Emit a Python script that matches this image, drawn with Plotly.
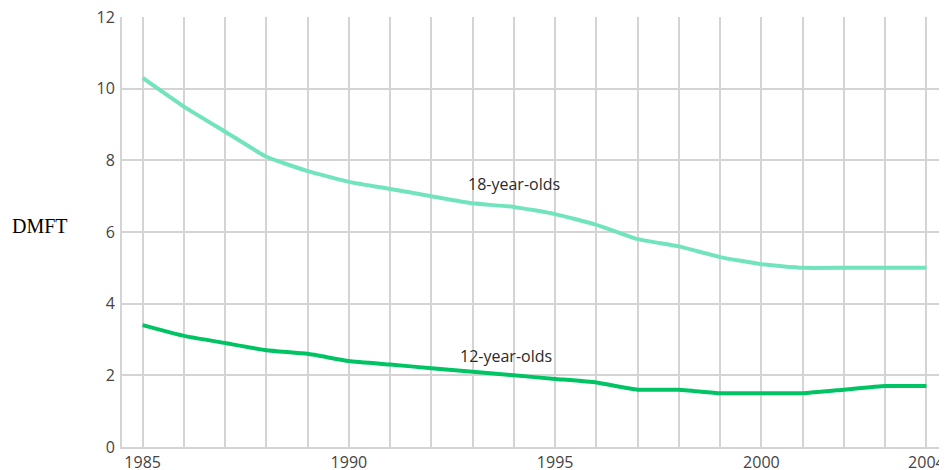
import plotly.graph_objects as go

years = list(range(1985, 2005))
dmft_18 = [10.3, 9.5, 8.8, 8.1, 7.7, 7.4, 7.2, 7.0, 6.8, 6.7, 6.5, 6.2, 5.8, 5.6, 5.3, 5.1, 5.0, 5.0, 5.0, 5.0]
dmft_12 = [3.4, 3.1, 2.9, 2.7, 2.6, 2.4, 2.3, 2.2, 2.1, 2.0, 1.9, 1.8, 1.6, 1.6, 1.5, 1.5, 1.5, 1.6, 1.7, 1.7]
labelled_years = [1985, 1990, 1995, 2000, 2004]
y_ticks = [0, 2, 4, 6, 8, 10, 12]

x_ticktext = [str(y) if y in labelled_years else "" for y in years]

fig = go.Figure()
fig.add_trace(go.Scatter(x=years, y=dmft_18, mode="lines", name="18-year-olds",
                         line=dict(color="#72e4bd", width=4, shape="spline", smoothing=0.4)))
fig.add_trace(go.Scatter(x=years, y=dmft_12, mode="lines", name="12-year-olds",
                         line=dict(color="#00c463", width=4, shape="spline", smoothing=0.4)))

fig.add_annotation(x=1994.0, y=7.33, text="18-year-olds", showarrow=False,
                   font=dict(family="Open Sans", size=16, color="#2a2a2a"))
fig.add_annotation(x=1993.8, y=2.55, text="12-year-olds", showarrow=False,
                   font=dict(family="Open Sans", size=16, color="#2a2a2a"))
fig.add_annotation(xref="paper", yref="paper", x=-0.099, y=0.514, xanchor="center",
                   text="DMFT", showarrow=False,
                   font=dict(family="Liberation Serif", size=20, color="#000000"))

fig.update_xaxes(range=[1984.5, 2004.5], tickvals=years, ticktext=x_ticktext,
                 showgrid=True, gridcolor="#d4d4d4", gridwidth=2,
                 showline=True, linecolor="#d4d4d4", linewidth=2,
                 ticks="", zeroline=False, fixedrange=True, ticklabeloverflow="allow",
                 tickfont=dict(family="Open Sans", size=16, color="#444444"))
fig.update_yaxes(range=[0, 12], tickvals=y_ticks,
                 showgrid=True, gridcolor="#d4d4d4", gridwidth=2,
                 showline=True, linecolor="#d4d4d4", linewidth=2,
                 ticks="", zeroline=False, ticklabelstandoff=2, ticklabeloverflow="allow",
                 tickfont=dict(family="Open Sans", size=16, color="#444444"))

fig.update_layout(width=947, height=470, showlegend=False,
                  margin=dict(l=114, r=8, t=9, b=31, autoexpand=False),
                  paper_bgcolor="white", plot_bgcolor="white")

fig.write_html("out.html")
